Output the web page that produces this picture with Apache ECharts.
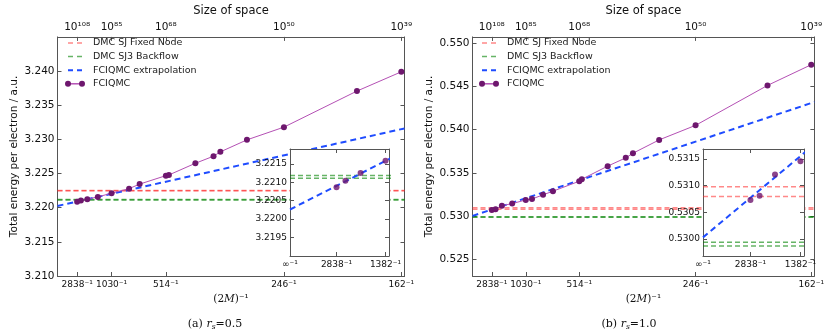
<!DOCTYPE html>
<html><head><meta charset="utf-8">
<script src="https://cdn.jsdelivr.net/npm/echarts@6/dist/echarts.min.js"></script>
<style>html,body{margin:0;padding:0;background:#fff}#c{width:827px;height:332px}</style>
</head><body><div id="c"></div>
<script>
// ---- tick labels ----
const bottomTicks2M = [2838, 1030, 514, 246, 162];
const topTickLabels = ['10¹⁰⁸', '10⁸⁵', '10⁶⁸', '10⁵⁰', '10³⁹'];
const insetTicks2M = [Infinity, 2838, 1382];
const yTicksA = [3.210, 3.215, 3.220, 3.225, 3.230, 3.235, 3.240];
const yTicksB = [0.525, 0.530, 0.535, 0.540, 0.545, 0.550];
const insetYTicksA = [3.2195, 3.2200, 3.2205, 3.2210, 3.2215];
const insetYTicksB = [0.5300, 0.5305, 0.5310, 0.5315];

// ---- data: panel (a) rs=0.5 ----
const twoMA = [2838, 2380, 1870, 1382, 1030, 778, 678, 514, 500, 404, 357, 342, 294, 246, 186, 162];
const energyA = [3.22086, 3.22104, 3.22125, 3.22158, 3.22212, 3.22279, 3.22345, 3.22469, 3.22479, 3.22650, 3.22754, 3.22817, 3.22993, 3.23179, 3.23707, 3.23989];
const dmcFixedNodeA = [3.22247, 3.22253];
const dmcBackflowA = [3.22111, 3.22118];
const extrapEndsA = [3.22026, 3.23160];

// ---- data: panel (b) rs=1.0 ----
const twoMB = [2838, 2380, 1870, 1382, 1030, 922, 778, 682, 514, 502, 406, 358, 342, 294, 246, 186, 162];
const energyB = [0.53073, 0.53081, 0.53121, 0.53146, 0.53188, 0.53199, 0.53247, 0.53289, 0.53404, 0.53427, 0.53578, 0.53674, 0.53727, 0.53881, 0.54049, 0.54510, 0.54749];
const dmcFixedNodeB = [0.53080, 0.53098];
const dmcBackflowB = [0.52987, 0.52994];
const extrapEndsB = [0.53003, 0.54318];

const legendNames = ['DMC SJ Fixed Node', 'DMC SJ3 Backflow', 'FCIQMC extrapolation', 'FCIQMC'];

const XMAX = 0.00623, IXMAX = 0.00075;
const inv = m => (m === Infinity ? 0 : 1 / m);
const FONT = 'DejaVu Sans';
const AX = '#555';
const RED = 'rgba(255,40,40,0.55)', GREEN = 'rgba(0,130,0,0.6)', BLUE = '#1f4cff';
const MARK = '#6e176e', PLINE = '#b450b4';

function nearestIdx(v, arr) {
  let b = 0, d = 1e9;
  arr.forEach((m, i) => { const dd = Math.abs(inv(m) - v); if (dd < d) { d = dd; b = i; } });
  return b;
}
function invLabel(m) { return (m === Infinity ? '∞' : String(m)) + '⁻¹'; }

const xAxis = [], yAxis = [], series = [];
function xAx(g, pos, min, max, ticks, fmt, fs, extra) {
  xAxis.push(Object.assign({
    type: 'value', gridIndex: g, position: pos, min: min, max: max,
    splitLine: { show: false },
    axisLine: { show: true, onZero: false, lineStyle: { color: AX, width: 1 } },
    axisTick: { show: true, inside: true, length: 4, customValues: ticks, lineStyle: { color: AX } },
    axisLabel: fmt ? { show: true, customValues: ticks, formatter: fmt, fontSize: fs, color: '#111', fontFamily: FONT, margin: 4 } : { show: false }
  }, extra || {}));
  return xAxis.length - 1;
}
function yAx(g, pos, min, max, ticks, fmt, fs, extra) {
  yAxis.push(Object.assign({
    type: 'value', gridIndex: g, position: pos, min: min, max: max,
    splitLine: { show: false },
    axisLine: { show: true, onZero: false, lineStyle: { color: AX, width: 1 } },
    axisTick: { show: true, inside: true, length: 4, customValues: ticks, lineStyle: { color: AX } },
    axisLabel: fmt ? { show: true, customValues: ticks, formatter: fmt, fontSize: fs, color: '#111', fontFamily: FONT, margin: 3 } : { show: false }
  }, extra || {}));
  return yAxis.length - 1;
}

const grids = [
  { left: 57.5, top: 31, width: 347, height: 245 },
  { left: 472.5, top: 31, width: 347, height: 245 },
  { left: 290, top: 149, width: 99, height: 107, show: true, backgroundColor: '#fff', borderWidth: 0, z: 10 },
  { left: 703, top: 149, width: 101, height: 107, show: true, backgroundColor: '#fff', borderWidth: 0, z: 10 }
];

function panel(gMain, gIn, twoM, energy, fn, bf, ext, yMin, yMax, yTicks, iyMin, iyMax, iyTicks) {
  const bt = bottomTicks2M.map(inv);
  const it = insetTicks2M.map(inv);
  const xb = xAx(gMain, 'bottom', 0, XMAX, bt, v => invLabel(bottomTicks2M[nearestIdx(v, bottomTicks2M)]), 9, {
    name: '(2{i|M})⁻¹', nameLocation: 'middle', nameGap: 17,
    nameTextStyle: { fontFamily: 'DejaVu Serif', fontSize: 10.5, color: '#111', rich: { i: { fontFamily: 'DejaVu Serif', fontStyle: 'italic', fontSize: 10.5, color: '#111' } } }
  });
  xAx(gMain, 'top', 0, XMAX, bt, v => topTickLabels[nearestIdx(v, bottomTicks2M)], 10.5, {
    name: 'Size of space', nameLocation: 'middle', nameGap: 14,
    nameTextStyle: { fontFamily: FONT, fontSize: 11.5, color: '#111' }
  });
  const yl = yAx(gMain, 'left', yMin, yMax, yTicks, v => v.toFixed(3), 10.5, {
    name: 'Total energy per electron / a.u.', nameLocation: 'middle', nameGap: 38,
    nameTextStyle: { fontFamily: FONT, fontSize: 10.5, color: '#111' }
  });
  yAx(gMain, 'right', yMin, yMax, yTicks, null, 0);
  const ixb = xAx(gIn, 'bottom', 0, IXMAX, it, v => invLabel(insetTicks2M[nearestIdx(v, insetTicks2M)]), 9, { z: 11 });
  xAx(gIn, 'top', 0, IXMAX, it, null, 0, { z: 11 });
  const iyl = yAx(gIn, 'left', iyMin, iyMax, iyTicks, v => v.toFixed(4), 9, { z: 11 });
  yAx(gIn, 'right', iyMin, iyMax, iyTicks, null, 0, { z: 11 });

  const pts = twoM.map((m, i) => [inv(m), energy[i]]);
  const hline = (name, v, color, xa, ya, z) => ({
    type: 'line', name: name, xAxisIndex: xa, yAxisIndex: ya, z: z, symbol: 'none', silent: true,
    data: [[0, v], [XMAX, v]],
    lineStyle: { color: color, width: 1.5, type: [5, 3] }, itemStyle: { color: color }
  });
  [[xb, yl, 2], [ixb, iyl, 12]].forEach(([xa, ya, z]) => {
    fn.forEach(v => series.push(hline(legendNames[0], v, RED, xa, ya, z)));
    bf.forEach(v => series.push(hline(legendNames[1], v, GREEN, xa, ya, z)));
    series.push({
      type: 'line', name: legendNames[2], xAxisIndex: xa, yAxisIndex: ya, z: z, symbol: 'none', silent: true,
      data: [[0, ext[0]], [XMAX, ext[1]]],
      lineStyle: { color: BLUE, width: 2, type: [6, 4] }, itemStyle: { color: BLUE }
    });
  });
  series.push({
    type: 'line', name: legendNames[3], xAxisIndex: xb, yAxisIndex: yl, z: 3, symbol: 'circle', symbolSize: 6,
    data: pts, lineStyle: { color: PLINE, width: 1 }, itemStyle: { color: MARK }
  });
  series.push({
    type: 'scatter', name: legendNames[3], xAxisIndex: ixb, yAxisIndex: iyl, z: 13, symbol: 'circle', symbolSize: 6,
    data: pts.filter(p => p[0] <= IXMAX), itemStyle: { color: MARK }
  });
}

panel(0, 2, twoMA, energyA, dmcFixedNodeA, dmcBackflowA, extrapEndsA, 3.210, 3.245, yTicksA, 3.2190, 3.2219, insetYTicksA);
panel(1, 3, twoMB, energyB, dmcFixedNodeB, dmcBackflowB, extrapEndsB, 0.5231, 0.5507, yTicksB, 0.52968, 0.53169, insetYTicksB);

// ---- legends drawn as graphics (matplotlib style, no frame) ----
const graphic = [];
function legendAt(x0, y0) {
  const styles = [
    { stroke: RED, lineWidth: 1.5, lineDash: [5, 4] },
    { stroke: GREEN, lineWidth: 1.5, lineDash: [5, 4] },
    { stroke: BLUE, lineWidth: 2, lineDash: [5, 4] },
    { stroke: PLINE, lineWidth: 1.5 }
  ];
  legendNames.forEach((name, i) => {
    const y = y0 + i * 13.6;
    graphic.push({ type: 'line', z: 50, shape: { x1: x0, y1: y, x2: x0 + 14, y2: y }, style: styles[i] });
    if (i === 3) {
      graphic.push({ type: 'circle', z: 51, shape: { cx: x0, cy: y, r: 3 }, style: { fill: MARK } });
      graphic.push({ type: 'circle', z: 51, shape: { cx: x0 + 14, cy: y, r: 3 }, style: { fill: MARK } });
    }
    graphic.push({ type: 'text', z: 50, x: x0 + 25, y: y, style: { text: name, font: '9.5px "DejaVu Sans"', fill: '#222', verticalAlign: 'middle' } });
  });
}
legendAt(68, 43);
legendAt(482, 43);

const capRich = {
  i: { fontFamily: 'DejaVu Serif', fontStyle: 'italic', fontSize: 11, fill: '#111' },
  s: { fontFamily: 'DejaVu Serif', fontStyle: 'italic', fontSize: 7.5, fill: '#111', padding: [6, 0, 0, 0] }
};
graphic.push({ type: 'text', x: 215, y: 324, style: { text: '(a) {i|r}{s|s}=0.5', align: 'center', verticalAlign: 'middle', font: '11px "DejaVu Serif"', fill: '#111', rich: capRich } });
graphic.push({ type: 'text', x: 629, y: 324, style: { text: '(b) {i|r}{s|s}=1.0', align: 'center', verticalAlign: 'middle', font: '11px "DejaVu Serif"', fill: '#111', rich: capRich } });

const option = {
  animation: false,
  backgroundColor: '#fff',
  grid: grids,
  xAxis: xAxis,
  yAxis: yAxis,
  series: series,
  graphic: graphic
};
const chart = echarts.init(document.getElementById('c'), null, { renderer: 'canvas' });
chart.setOption(option);
</script></body></html>
